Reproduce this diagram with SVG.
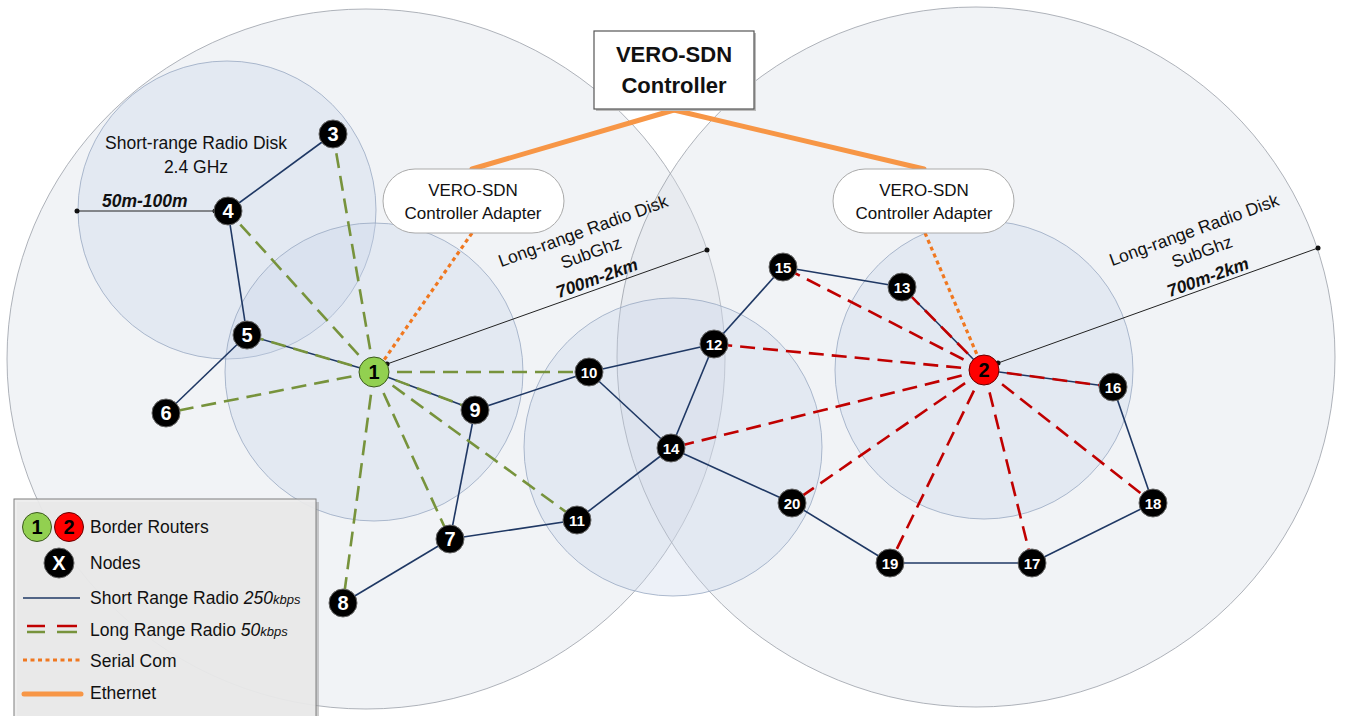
<svg xmlns="http://www.w3.org/2000/svg" width="1345" height="716" viewBox="0 0 1345 716">
<defs>
<style>
.big{fill:#d8dde6;fill-opacity:0.36;stroke:#9a9fa8;stroke-width:0.8}
.disk{fill:#c6d5ea;fill-opacity:0.32;stroke:#98a8c2;stroke-width:0.8}
.sr{stroke:#1f3864;stroke-width:1.6;fill:none}
.lrg{stroke:#77933c;stroke-width:2.6;stroke-dasharray:15 8;fill:none}
.lrr{stroke:#c00000;stroke-width:2.6;stroke-dasharray:15 8;fill:none}
.ser{stroke:#f07820;stroke-width:3.2;stroke-dasharray:4 3.5;fill:none}
.eth{stroke:#f79646;stroke-width:5;fill:none;stroke-linecap:round}
.rad{stroke:#222;stroke-width:1;fill:none}
.dot{fill:#111}
.node circle{fill:#000;stroke:#666;stroke-width:1}
.node text{fill:#fff;font-family:'Liberation Sans',Arial,sans-serif;font-weight:bold;text-anchor:middle}
.s1{font-size:20px}
.s2{font-size:15px}
.t{font-family:'Liberation Sans',Arial,sans-serif;font-size:17px;fill:#111}
.c{text-anchor:middle}
.bi{font-weight:bold;font-style:italic}
.box{fill:#fff;stroke:#555;stroke-width:1.2}
.pill{fill:#fff;stroke:#aaa;stroke-width:1}
</style>
</defs>
<rect x="0" y="0" width="1345" height="716" fill="#ffffff"/>

<g id="disks">
<ellipse class="big" cx="366" cy="359" rx="359" ry="350"/>
<ellipse class="big" cx="976" cy="357" rx="359" ry="350"/>
<circle class="disk" cx="227" cy="210" r="149"/>
<circle class="disk" cx="374" cy="372" r="149"/>
<circle class="disk" cx="673" cy="447" r="149"/>
<circle class="disk" cx="984" cy="370" r="149"/>
</g>

<g id="radius-labels">
<line class="rad" x1="77" y1="211" x2="215" y2="211"/>
<circle class="dot" cx="77" cy="211" r="2.5"/>
<circle class="dot" cx="215" cy="211" r="2.5"/>
<text class="t c" x="196" y="149" style="font-size:17.5px">Short-range Radio Disk</text>
<text class="t c" x="196" y="173" style="font-size:17.5px">2.4 GHz</text>
<text class="t bi" x="102" y="207" style="font-size:17.5px">50m-100m</text>

<line class="rad" x1="387" y1="364" x2="707" y2="250"/>
<circle class="dot" cx="387" cy="364" r="2.5"/>
<circle class="dot" cx="707" cy="250" r="2.5"/>
<g transform="translate(583,231) rotate(-20)" style="font-size:17.5px">
<text class="t c" x="0" y="6" style="font-size:17.5px">Long-range Radio Disk</text>
<text class="t c" x="0" y="29" style="font-size:17.5px">SubGhz</text>
<text class="t c bi" x="-3" y="55" style="font-size:17.5px">700m-2km</text>
</g>

<line class="rad" x1="998" y1="363" x2="1318" y2="248"/>
<circle class="dot" cx="998" cy="363" r="2.5"/>
<circle class="dot" cx="1318" cy="248" r="2.5"/>
<g transform="translate(1194,230) rotate(-20)">
<text class="t c" x="0" y="6" style="font-size:17.5px">Long-range Radio Disk</text>
<text class="t c" x="0" y="29" style="font-size:17.5px">SubGhz</text>
<text class="t c bi" x="-3" y="55" style="font-size:17.5px">700m-2km</text>
</g>
</g>

<g id="connectors">
<line class="eth" x1="674" y1="110" x2="472" y2="169"/>
<line class="eth" x1="674" y1="110" x2="924" y2="169"/>
<line class="ser" x1="472" y1="233" x2="384" y2="360"/>
<line class="ser" x1="925" y1="233" x2="978" y2="357"/>

<line class="sr" x1="333" y1="134" x2="228" y2="211"/>
<line class="sr" x1="228" y1="211" x2="247" y2="335"/>
<line class="sr" x1="247" y1="335" x2="166" y2="413"/>
<line class="sr" x1="247" y1="335" x2="374" y2="372"/>
<line class="sr" x1="374" y1="372" x2="475" y2="410"/>
<line class="sr" x1="475" y1="410" x2="589" y2="372"/>
<line class="sr" x1="475" y1="410" x2="450" y2="539"/>
<line class="sr" x1="450" y1="539" x2="343" y2="603"/>
<line class="sr" x1="450" y1="539" x2="577" y2="520"/>
<line class="sr" x1="577" y1="520" x2="671" y2="448"/>
<line class="sr" x1="589" y1="372" x2="671" y2="448"/>
<line class="sr" x1="589" y1="372" x2="714" y2="344"/>
<line class="sr" x1="714" y1="344" x2="671" y2="448"/>
<line class="sr" x1="714" y1="344" x2="783" y2="267"/>
<line class="sr" x1="783" y1="267" x2="902" y2="287"/>
<line class="sr" x1="902" y1="287" x2="984" y2="370"/>
<line class="sr" x1="984" y1="370" x2="1113" y2="387"/>
<line class="sr" x1="1113" y1="387" x2="1153" y2="503"/>
<line class="sr" x1="1153" y1="503" x2="1032" y2="563"/>
<line class="sr" x1="1032" y1="563" x2="890" y2="563"/>
<line class="sr" x1="890" y1="563" x2="792" y2="503"/>
<line class="sr" x1="792" y1="503" x2="671" y2="448"/>

<line class="lrg" x1="374" y1="372" x2="333" y2="134"/>
<line class="lrg" x1="374" y1="372" x2="228" y2="211"/>
<line class="lrg" x1="374" y1="372" x2="247" y2="335"/>
<line class="lrg" x1="374" y1="372" x2="166" y2="413"/>
<line class="lrg" x1="374" y1="372" x2="343" y2="603"/>
<line class="lrg" x1="374" y1="372" x2="450" y2="539"/>
<line class="lrg" x1="374" y1="372" x2="577" y2="520"/>
<line class="lrg" x1="374" y1="372" x2="475" y2="410"/>
<line class="lrg" x1="374" y1="372" x2="589" y2="372"/>

<line class="lrr" x1="984" y1="370" x2="783" y2="267"/>
<line class="lrr" x1="984" y1="370" x2="902" y2="287"/>
<line class="lrr" x1="984" y1="370" x2="714" y2="344"/>
<line class="lrr" x1="984" y1="370" x2="671" y2="448"/>
<line class="lrr" x1="984" y1="370" x2="1113" y2="387"/>
<line class="lrr" x1="984" y1="370" x2="792" y2="503"/>
<line class="lrr" x1="984" y1="370" x2="890" y2="563"/>
<line class="lrr" x1="984" y1="370" x2="1032" y2="563"/>
<line class="lrr" x1="984" y1="370" x2="1153" y2="503"/>
</g>

<g id="controller">
<rect x="596" y="33" width="160" height="78" fill="#bbb"/>
<rect class="box" x="594" y="31" width="160" height="78"/>
<text class="t c" x="674" y="62" style="font-size:22px;font-weight:bold">VERO-SDN</text>
<text class="t c" x="674" y="93" style="font-size:22px;font-weight:bold">Controller</text>
</g>
<g id="adapter1">
<rect class="pill" x="383" y="169" width="181" height="64" rx="32"/>
<text class="t c" x="473" y="196">VERO-SDN</text>
<text class="t c" x="473" y="219">Controller Adapter</text>
</g>
<g id="adapter2">
<rect class="pill" x="833" y="169" width="181" height="64" rx="32"/>
<text class="t c" x="924" y="196">VERO-SDN</text>
<text class="t c" x="924" y="219">Controller Adapter</text>
</g>

<g id="node1"><circle cx="374" cy="372" r="15" fill="#92d050" stroke="#3c5a1e" stroke-width="1"/><text x="374" y="379" font-family="Liberation Sans, Arial, sans-serif" font-size="20" font-weight="bold" text-anchor="middle" fill="#000">1</text></g>
<g id="node2"><circle cx="984" cy="370" r="15" fill="#ff0000" stroke="#6a0000" stroke-width="1"/><text x="984" y="377" font-family="Liberation Sans, Arial, sans-serif" font-size="20" font-weight="bold" text-anchor="middle" fill="#000">2</text></g>
<g id="node3" class="node"><circle cx="333" cy="134" r="14"/><text class="s1" x="333" y="141">3</text></g>
<g id="node4" class="node"><circle cx="228" cy="211" r="14"/><text class="s1" x="228" y="218">4</text></g>
<g id="node5" class="node"><circle cx="247" cy="335" r="14"/><text class="s1" x="247" y="342">5</text></g>
<g id="node6" class="node"><circle cx="166" cy="413" r="14"/><text class="s1" x="166" y="420">6</text></g>
<g id="node7" class="node"><circle cx="450" cy="539" r="14"/><text class="s1" x="450" y="546">7</text></g>
<g id="node8" class="node"><circle cx="343" cy="603" r="14"/><text class="s1" x="343" y="610">8</text></g>
<g id="node9" class="node"><circle cx="475" cy="410" r="14"/><text class="s1" x="475" y="417">9</text></g>
<g id="node10" class="node"><circle cx="589" cy="372" r="14"/><text class="s2" x="589" y="377.5">10</text></g>
<g id="node11" class="node"><circle cx="577" cy="520" r="14"/><text class="s2" x="577" y="525.5">11</text></g>
<g id="node12" class="node"><circle cx="714" cy="344" r="14"/><text class="s2" x="714" y="349.5">12</text></g>
<g id="node13" class="node"><circle cx="902" cy="287" r="14"/><text class="s2" x="902" y="292.5">13</text></g>
<g id="node14" class="node"><circle cx="671" cy="448" r="14"/><text class="s2" x="671" y="453.5">14</text></g>
<g id="node15" class="node"><circle cx="783" cy="267" r="14"/><text class="s2" x="783" y="272.5">15</text></g>
<g id="node16" class="node"><circle cx="1113" cy="387" r="14"/><text class="s2" x="1113" y="392.5">16</text></g>
<g id="node17" class="node"><circle cx="1032" cy="563" r="14"/><text class="s2" x="1032" y="568.5">17</text></g>
<g id="node18" class="node"><circle cx="1153" cy="503" r="14"/><text class="s2" x="1153" y="508.5">18</text></g>
<g id="node19" class="node"><circle cx="890" cy="563" r="14"/><text class="s2" x="890" y="568.5">19</text></g>
<g id="node20" class="node"><circle cx="792" cy="503" r="14"/><text class="s2" x="792" y="508.5">20</text></g>

<g id="legend">
<rect x="17" y="502" width="302" height="220" fill="#999" fill-opacity="0.5"/>
<rect x="14" y="499" width="302" height="220" fill="#ececec" fill-opacity="0.9" stroke="#7f7f7f" stroke-width="1"/>
<circle cx="37" cy="527" r="14.5" fill="#92d050" stroke="#3c5a1e" stroke-width="1"/>
<text x="37" y="534" font-family="Liberation Sans, Arial, sans-serif" font-size="20" font-weight="bold" text-anchor="middle" fill="#000">1</text>
<circle cx="69" cy="527" r="14.5" fill="#ff0000" stroke="#6a0000" stroke-width="1"/>
<text x="69" y="534" font-family="Liberation Sans, Arial, sans-serif" font-size="20" font-weight="bold" text-anchor="middle" fill="#000">2</text>
<text class="t" x="90" y="533" style="font-size:17.5px">Border Routers</text>
<g class="node"><circle cx="59" cy="563" r="15"/><text class="s1" x="59" y="570">X</text></g>
<text class="t" x="90" y="569" style="font-size:17.5px">Nodes</text>
<line class="sr" x1="23" y1="598" x2="80" y2="598"/>
<text class="t" x="90" y="604" style="font-size:17.5px">Short Range Radio <tspan font-style="italic">250</tspan><tspan font-style="italic" font-size="13">kbps</tspan></text>
<line x1="27" y1="626" x2="45" y2="626" stroke="#c00000" stroke-width="2.5"/>
<line x1="57" y1="626" x2="77" y2="626" stroke="#c00000" stroke-width="2.5"/>
<line x1="27" y1="632" x2="45" y2="632" stroke="#77933c" stroke-width="2.5"/>
<line x1="57" y1="632" x2="77" y2="632" stroke="#77933c" stroke-width="2.5"/>
<text class="t" x="90" y="636" style="font-size:17.5px">Long Range Radio <tspan font-style="italic">50</tspan><tspan font-style="italic" font-size="13">kbps</tspan></text>
<line class="ser" x1="23" y1="660" x2="80" y2="660"/>
<text class="t" x="90" y="667" style="font-size:17.5px">Serial Com</text>
<line class="eth" x1="24" y1="694" x2="81" y2="694"/>
<text class="t" x="90" y="699" style="font-size:17.5px">Ethernet</text>
</g>
</svg>
